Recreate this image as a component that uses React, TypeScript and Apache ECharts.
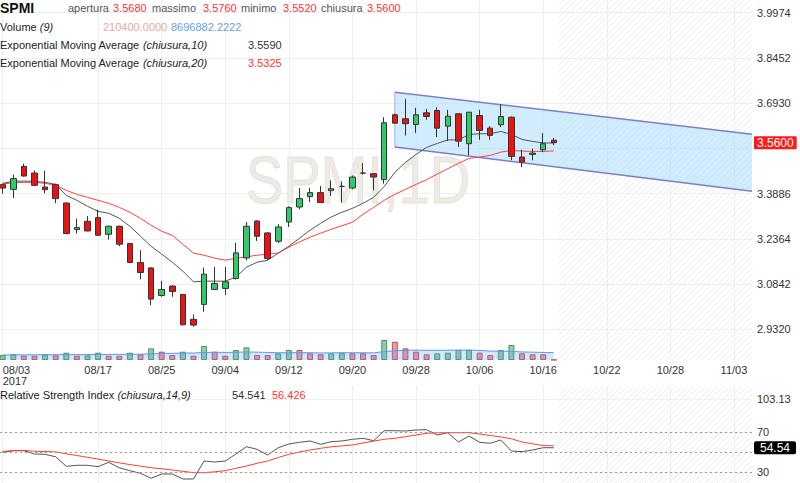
import React, { useEffect, useRef } from 'react';
import * as echarts from 'echarts';

// ---------- data ----------
const tickIdx = [0, 9, 15, 21, 27, 33, 39, 45, 51, 57, 63, 69];
const tickLabels = ['08/03\n2017', '08/17', '08/25', '09/04', '09/12', '09/20', '09/28', '10/06', '10/16', '10/22', '10/28', '11/03'];

const opens = [3.4188, 3.4030, 3.4803, 3.4578, 3.4108, 3.4188, 3.3570, 3.2677, 3.2956, 3.3080, 3.2519, 3.2788, 3.2207, 3.1569, 3.1386, 3.0461, 3.0775, 3.0495, 2.9655, 3.0159, 3.0662, 3.0696, 3.1032, 3.1723, 3.2966, 3.2563, 3.2284, 3.2932, 3.3436, 3.3785, 3.3920, 3.3987, 3.4131, 3.4074, 3.4578, 3.4558, 3.4356, 3.6539, 3.6405, 3.6213, 3.6606, 3.6684, 3.6156, 3.6573, 3.5565, 3.6515, 3.6089, 3.6203, 3.6458, 3.5115, 3.5206, 3.5363, 3.5680];
const closes = [3.4074, 3.4390, 3.4477, 3.4165, 3.4020, 3.3718, 3.2543, 3.2744, 3.2630, 3.2486, 3.2788, 3.2184, 3.1569, 3.1233, 3.0337, 3.0662, 3.0595, 2.9474, 2.9464, 3.1176, 3.0864, 3.0919, 3.1892, 3.2788, 3.2452, 3.1704, 3.2764, 3.3416, 3.3718, 3.3920, 3.3584, 3.4054, 3.4131, 3.4443, 3.4578, 3.4443, 3.6270, 3.6257, 3.6237, 3.6539, 3.6482, 3.6089, 3.6492, 3.5652, 3.6626, 3.6012, 3.5844, 3.6482, 3.5139, 3.4947, 3.5249, 3.5565, 3.5600];
const lows = [3.3886, 3.3738, 3.4467, 3.4140, 3.3896, 3.3570, 3.2519, 3.2543, 3.2620, 3.2469, 3.2341, 3.2116, 3.1546, 3.1002, 3.0135, 3.0414, 3.0414, 2.9450, 2.9406, 2.9910, 3.0639, 3.0471, 3.1000, 3.1646, 3.2294, 3.1646, 3.2227, 3.2764, 3.3359, 3.3604, 3.3584, 3.3805, 3.3584, 3.4030, 3.4524, 3.3997, 3.4222, 3.6230, 3.5844, 3.5921, 3.6371, 3.5790, 3.5652, 3.5451, 3.5172, 3.5699, 3.5699, 3.6123, 3.5008, 3.4779, 3.5004, 3.5283, 3.5520];
const highs = [3.4222, 3.4524, 3.4893, 3.4668, 3.4658, 3.4222, 3.3594, 3.3047, 3.3134, 3.3349, 3.2811, 3.2811, 3.2230, 3.1982, 3.1418, 3.0951, 3.0807, 3.0505, 2.9823, 3.1401, 3.1418, 3.1418, 3.2228, 3.2933, 3.2989, 3.2596, 3.2855, 3.3460, 3.4074, 3.4087, 3.4141, 3.4333, 3.4297, 3.4500, 3.4914, 3.4558, 3.6458, 3.6582, 3.7076, 3.6774, 3.6740, 3.6794, 3.6707, 3.6593, 3.6626, 3.6707, 3.6156, 3.6885, 3.6482, 3.5363, 3.5397, 3.5921, 3.5760];

const ema10 = [3.4232, 3.4299, 3.4309, 3.4299, 3.4265, 3.4198, 3.3829, 3.3661, 3.3460, 3.3292, 3.3224, 3.3057, 3.2788, 3.2452, 3.2116, 3.1848, 3.1579, 3.1277, 3.0918, 3.0941, 3.0941, 3.0941, 3.1075, 3.1411, 3.1579, 3.1646, 3.1881, 3.2116, 3.2385, 3.2654, 3.2889, 3.3100, 3.3258, 3.3392, 3.3560, 3.3762, 3.4131, 3.4601, 3.4937, 3.5206, 3.5441, 3.5575, 3.5693, 3.5693, 3.5877, 3.5901, 3.5901, 3.5978, 3.5877, 3.5709, 3.5642, 3.5592, 3.5590];
const ema20 = [3.4215, 3.4249, 3.4265, 3.4265, 3.4232, 3.4165, 3.3997, 3.3862, 3.3762, 3.3661, 3.3560, 3.3426, 3.3258, 3.3057, 3.2822, 3.2620, 3.2486, 3.2183, 3.1881, 3.1814, 3.1713, 3.1646, 3.1713, 3.1757, 3.1814, 3.1848, 3.1891, 3.2083, 3.2261, 3.2419, 3.2553, 3.2687, 3.2805, 3.2922, 3.3191, 3.3426, 3.3661, 3.3862, 3.4030, 3.4198, 3.4356, 3.4544, 3.4726, 3.4903, 3.5071, 3.5115, 3.5172, 3.5283, 3.5340, 3.5317, 3.5306, 3.5306, 3.5325];

const volumes = [5900000, 7100000, 5100000, 5100000, 6800000, 5600000, 8700000, 5100000, 5600000, 8700000, 5100000, 5100000, 8700000, 6800000, 13900000, 9900000, 5900000, 9900000, 5100000, 16700000, 9900000, 5100000, 11900000, 15100000, 5900000, 5900000, 8000000, 11900000, 11900000, 8000000, 6800000, 8000000, 8700000, 8000000, 8000000, 5900000, 23800000, 21800000, 13900000, 9900000, 6800000, 8000000, 8700000, 11900000, 11900000, 8700000, 5900000, 11900000, 17900000, 8000000, 6800000, 6800000, 210400];
const volumeUp = [1, 1, 0, 0, 1, 0, 1, 0, 1, 1, 0, 0, 1, 0, 1, 0, 0, 1, 0, 1, 0, 0, 1, 1, 0, 0, 1, 1, 0, 0, 0, 1, 1, 0, 0, 0, 1, 0, 0, 0, 0, 1, 1, 1, 1, 0, 0, 1, 1, 0, 0, 0, 0];
const volumeMa9 = [6000000, 6100000, 6200000, 6200000, 6300000, 6300000, 6400000, 6400000, 6500000, 6600000, 6600000, 6700000, 6800000, 6900000, 7400000, 7800000, 7900000, 8200000, 8300000, 8900000, 9200000, 9000000, 9200000, 9600000, 9300000, 9000000, 8600000, 8700000, 8800000, 8600000, 8400000, 8500000, 8600000, 8700000, 8600000, 8500000, 10000000, 11000000, 11600000, 11800000, 11600000, 11500000, 11600000, 11800000, 11900000, 11400000, 10600000, 10500000, 10200000, 9600000, 9300000, 9000000, 8696882.2222];

const rsi = [50, 51.5, 51.6, 48.3, 48, 45.5, 36, 37, 37, 35.6, 40, 34.5, 31.6, 29, 24, 28.3, 28.3, 23.3, 23.3, 41.3, 40.3, 41.3, 48.3, 55.6, 53, 47.3, 54.6, 58.3, 60, 61.3, 58, 60.6, 61.3, 63, 64, 61.6, 71.6, 71.6, 71.3, 72.3, 72.6, 67.3, 69.6, 60.3, 66.3, 60, 59, 62.3, 51.3, 50.6, 52.3, 54.6, 54.541];
const rsiSignal = [50.8, 51.8, 52, 51, 50.8, 50.4, 48.5, 46.8, 45, 43.2, 41.3, 39.5, 37.7, 36.2, 34.6, 33.5, 32.3, 31, 29.6, 29.6, 30.5, 31.6, 34, 36.3, 39, 41.3, 44.8, 48, 50.3, 52.3, 54, 55.5, 56.4, 57.3, 59.3, 61.2, 63, 64, 65.6, 67.3, 69, 69.4, 69.6, 69.6, 69.6, 68.3, 66.8, 65.4, 63.5, 60.3, 58.5, 56.8, 56.426];

const priceTicks = [2.932, 3.0842, 3.2364, 3.3886, 3.5408, 3.693, 3.8452, 3.9974];
// the 3.5408 label sits under the last-price badge in the reference
const priceLabels = [2.932, 3.0842, 3.2364, 3.3886, 3.693, 3.8452, 3.9974];
const rsiTicks = [30, 70, 103.13];
const rsiLevels = [30, 50, 70];

const channelX = [37, 70.7];
const channelUpper = [3.7298, 3.5884];
const channelLower = [3.5451, 3.3967];
const futureStart = 52.5;

// ---------- layout constants ----------
const X_MIN = -0.255;
const X_MAX = 70.7;
const FONT = 'Arial, "Liberation Sans", Helvetica, sans-serif';

function makeHatch() {
  const c = document.createElement('canvas');
  c.width = 6;
  c.height = 6;
  const ctx = c.getContext('2d');
  if (ctx) {
    ctx.strokeStyle = '#ebebeb';
    ctx.lineWidth = 1;
    ctx.beginPath();
    ctx.moveTo(0, 6); ctx.lineTo(6, 0);
    ctx.moveTo(-1, 1); ctx.lineTo(1, -1);
    ctx.moveTo(5, 7); ctx.lineTo(7, 5);
    ctx.stroke();
  }
  return { image: c.toDataURL(), repeat: 'repeat', imageWidth: 6, imageHeight: 6 };
}

function txt(x: number, y: number, text: string, fill: string, extra: any = {}) {
  return {
    type: 'text', x, y, silent: true, z: 50,
    style: {
      text, fill, font: `11px ${FONT}`,
      textVerticalAlign: 'middle', verticalAlign: 'middle',
      rich: { i: { font: `italic 11px ${FONT}`, fill } },
      ...extra,
    },
  };
}

export default function App() {
  const ref = useRef<HTMLDivElement>(null);

  useEffect(() => {
    if (!ref.current) return;
    const chart = echarts.init(ref.current, undefined, { renderer: 'svg' });
    const hatch = makeHatch();
    const idx = closes.map((_, i) => i);
    const last = closes.length - 1;

    const candleData = idx.map((i) => [i, opens[i], closes[i], lows[i], highs[i]]);
    const up = { color: 'rgba(50,170,90,0.55)', borderColor: 'rgba(40,120,60,0.75)', borderWidth: 1 };
    const down = { color: 'rgba(225,70,70,0.55)', borderColor: 'rgba(160,50,60,0.75)', borderWidth: 1 };

    const xCommon = { type: 'value', min: X_MIN, max: X_MAX };
    const invisible = { color: 'rgba(0,0,0,0)', width: 0 };

    const option: any = {
      animation: false,
      textStyle: { fontFamily: FONT },
      grid: [
        { left: 0, top: 0, width: 752, height: 360, outerBoundsMode: 'none' },
        { left: 0, top: 320, width: 752, height: 40, outerBoundsMode: 'none' },
        { left: 0, top: 386, width: 752, height: 97, outerBoundsMode: 'none' },
      ],
      xAxis: [
        {
          ...xCommon, gridIndex: 0,
          axisLine: { show: false },
          axisTick: { show: false, customValues: tickIdx },
          axisLabel: {
            customValues: tickIdx,
            formatter: (v: number) => tickLabels[tickIdx.indexOf(Math.round(v))] || '',
            color: '#333', fontSize: 11, fontFamily: FONT, margin: 4, lineHeight: 11,
            alignMinLabel: 'left',
          },
          splitLine: { show: true, lineStyle: { color: '#eeeeee', width: 1 } },
        },
        { ...xCommon, gridIndex: 1, show: false },
        {
          ...xCommon, gridIndex: 2,
          axisLine: { show: false },
          axisTick: { show: false, customValues: tickIdx },
          axisLabel: { show: false, customValues: tickIdx },
          splitLine: { show: true, lineStyle: { color: '#eeeeee', width: 1 } },
        },
      ],
      yAxis: [
        {
          type: 'value', gridIndex: 0, position: 'right', min: 2.8288, max: 4.0401,
          axisLine: { show: false },
          axisTick: { show: false, customValues: priceTicks },
          axisLabel: {
            customValues: priceLabels, formatter: (v: number) => v.toFixed(4),
            color: '#333', fontSize: 11, fontFamily: FONT, margin: 5,
          },
          splitLine: { show: true, lineStyle: { color: '#eeeeee', width: 1 } },
        },
        { type: 'value', gridIndex: 1, min: 0, max: 47600000, show: false },
        {
          type: 'value', gridIndex: 2, position: 'right', min: 19.3, max: 116.3,
          axisLine: { show: false },
          axisTick: { show: false, customValues: rsiTicks },
          axisLabel: {
            customValues: rsiTicks, formatter: (v: number) => String(v),
            color: '#333', fontSize: 11, fontFamily: FONT, margin: 5,
          },
          splitLine: { show: true, lineStyle: { color: '#f0f0f0', width: 1 } },
        },
      ],
      graphic: [
        {
          type: 'text', x: 358, y: 180, scaleX: 0.85, silent: true, z: 0,
          style: {
            text: 'SPMI,1D', fill: 'rgba(225,218,205,0.55)', stroke: 'rgba(205,196,180,0.45)', lineWidth: 1,
            font: `66px ${FONT}`, textAlign: 'center', align: 'center',
            textVerticalAlign: 'middle', verticalAlign: 'middle',
          },
        },
        txt(0, 8, 'SPMI', '#111', { font: `bold 14px ${FONT}` }),
        txt(68, 8, 'apertura', '#555'),
        txt(113, 8, opens[last].toFixed(4), '#ff3333'),
        txt(152, 8, 'massimo', '#555'),
        txt(203, 8, highs[last].toFixed(4), '#ff3333'),
        txt(241, 8, 'minimo', '#555'),
        txt(283, 8, lows[last].toFixed(4), '#ff3333'),
        txt(321, 8, 'chiusura', '#555'),
        txt(367, 8, closes[last].toFixed(4), '#ff3333'),
        txt(0, 27, 'Volume {i|(9)}', '#222'),
        txt(103, 27, volumes[last].toFixed(4), '#f0a4a4'),
        txt(171, 27, volumeMa9[last].toFixed(4), '#6b9ee8'),
        txt(0, 45, 'Exponential Moving Average {i|(chiusura,10)}', '#222'),
        txt(248, 45, ema10[last].toFixed(4), '#333'),
        txt(0, 63, 'Exponential Moving Average {i|(chiusura,20)}', '#222'),
        txt(248, 63, ema20[last].toFixed(4), '#ff3333'),
        txt(0, 395, 'Relative Strength Index {i|(chiusura,14,9)}', '#222'),
        txt(232, 395, rsi[last].toFixed(3), '#333'),
        txt(272, 395, rsiSignal[last].toFixed(3), '#ff3333'),
      ],
      series: [
        {
          name: 'future-main', type: 'line', xAxisIndex: 0, yAxisIndex: 0, z: 0,
          data: [[60, 3.5]], symbol: 'none', lineStyle: invisible, silent: true,
          markArea: {
            silent: true,
            itemStyle: { color: hatch },
            data: [[{ xAxis: futureStart }, { xAxis: X_MAX }]],
          },
        },
        {
          name: 'channel', type: 'custom', xAxisIndex: 0, yAxisIndex: 0, z: 1, silent: true,
          data: [[channelX[0], channelUpper[0], channelLower[0]], [channelX[1], channelUpper[1], channelLower[1]]],
          encode: { x: 0, y: [1, 2] },
          renderItem: (params: any, api: any) => {
            if (params.dataIndex !== 0) return null;
            const a = api.coord([channelX[0], channelUpper[0]]);
            const b = api.coord([channelX[1], channelUpper[1]]);
            const c = api.coord([channelX[1], channelLower[1]]);
            const d = api.coord([channelX[0], channelLower[0]]);
            return {
              type: 'group',
              children: [
                { type: 'polygon', shape: { points: [a, b, c, d] }, style: { fill: 'rgba(170,220,252,0.55)', stroke: 'none' } },
                { type: 'line', shape: { x1: a[0], y1: a[1], x2: d[0], y2: d[1] }, style: { stroke: '#9db4ea', lineWidth: 1 } },
                { type: 'line', shape: { x1: a[0], y1: a[1], x2: b[0], y2: b[1] }, style: { stroke: '#7b7fcf', lineWidth: 1.5 } },
                { type: 'line', shape: { x1: d[0], y1: d[1], x2: c[0], y2: c[1] }, style: { stroke: '#7b7fcf', lineWidth: 1.5 } },
              ],
            };
          },
        },
        {
          name: 'EMA20', type: 'line', xAxisIndex: 0, yAxisIndex: 0, z: 2,
          data: idx.map((i) => [i, ema20[i]]), symbol: 'none', silent: true,
          lineStyle: { color: '#ff4040', width: 1 },
        },
        {
          name: 'EMA10', type: 'line', xAxisIndex: 0, yAxisIndex: 0, z: 2,
          data: idx.map((i) => [i, ema10[i]]), symbol: 'none', silent: true,
          lineStyle: { color: '#555555', width: 1 },
        },
        {
          name: 'SPMI', type: 'candlestick', xAxisIndex: 0, yAxisIndex: 0, z: 3,
          data: candleData, encode: { x: 0, y: [1, 2, 3, 4] }, barWidth: 6, silent: true,
          itemStyle: {
            color: '#2fcc66', color0: '#ee1111',
            borderColor: '#333', borderColor0: '#333', borderColorDoji: '#333', borderWidth: 1,
          },
          markLine: {
            silent: true,
            symbol: ['none', 'path://M0,5L6,0L6,10Z'],
            symbolSize: [6, 10],
            symbolRotate: 0,
            lineStyle: invisible,
            label: {
              show: true, position: 'end', distance: 2,
              formatter: () => closes[last].toFixed(4),
              backgroundColor: '#ff1a1a', color: '#fff', fontSize: 12, fontFamily: FONT,
              padding: [1, 3, 0, 3], lineHeight: 12, borderRadius: 1,
            },
            itemStyle: { color: '#ff1a1a' },
            data: [{ yAxis: closes[last] }],
          },
        },
        {
          name: 'Volume', type: 'bar', xAxisIndex: 1, yAxisIndex: 1, z: 2, barWidth: 6, silent: true,
          data: idx.map((i) => ({ value: [i, volumes[i]], itemStyle: volumeUp[i] ? up : down })),
        },
        {
          name: 'Volume MA', type: 'line', xAxisIndex: 1, yAxisIndex: 1, z: 3, silent: true,
          data: idx.map((i) => [i, volumeMa9[i]]), symbol: 'none',
          lineStyle: { color: '#5a98ee', width: 1 },
          areaStyle: { color: 'rgba(95,155,240,0.35)' },
        },
        {
          name: 'future-rsi', type: 'line', xAxisIndex: 2, yAxisIndex: 2, z: 0,
          data: [[60, 50]], symbol: 'none', lineStyle: invisible, silent: true,
          markArea: {
            silent: true,
            itemStyle: { color: hatch },
            data: [[{ xAxis: futureStart }, { xAxis: X_MAX }]],
          },
        },
        {
          name: 'RSI', type: 'line', xAxisIndex: 2, yAxisIndex: 2, z: 3, silent: true,
          data: idx.map((i) => [i, rsi[i]]), symbol: 'none',
          lineStyle: { color: '#555555', width: 1 },
          markLine: {
            silent: true, symbol: ['none', 'none'],
            lineStyle: { color: '#9a9a9a', type: [2, 3], width: 1 },
            label: { show: false },
            data: rsiLevels.map((v) => ({ yAxis: v })),
          },
        },
        {
          name: 'RSI signal', type: 'line', xAxisIndex: 2, yAxisIndex: 2, z: 4, silent: true,
          data: idx.map((i) => [i, rsiSignal[i]]), symbol: 'none',
          lineStyle: { color: '#ff3b3b', width: 1 },
          markLine: {
            silent: true,
            symbol: ['none', 'path://M0,5L6,0L6,10Z'],
            symbolSize: [6, 10],
            symbolRotate: 0,
            lineStyle: invisible,
            itemStyle: { color: '#000' },
            label: {
              show: true, position: 'end', distance: 2,
              formatter: () => rsi[last].toFixed(2),
              backgroundColor: '#000', color: '#fff', fontSize: 12, fontFamily: FONT,
              padding: [1, 6, 0, 6], lineHeight: 12, borderRadius: 2,
            },
            data: [{ yAxis: rsi[last] }],
          },
        },
      ],
    };

    chart.setOption(option);
    return () => chart.dispose();
  }, []);

  return <div ref={ref} style={{ position: 'absolute', left: 0, top: 0, width: 800, height: 483 }} />;
}
